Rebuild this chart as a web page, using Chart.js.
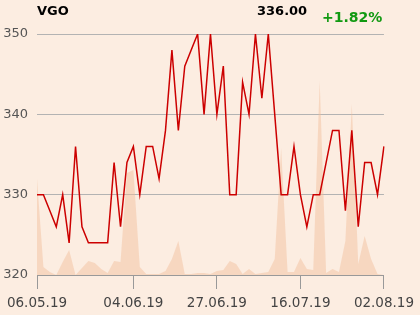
<!DOCTYPE html>
<html>
<head>
<meta charset="utf-8">
<script src="https://cdn.jsdelivr.net/npm/chart.js@4/dist/chart.umd.min.js"></script>
<style>
  html, body { margin: 0; padding: 0; background: #fcede1; }
  #wrap { position: relative; width: 420px; height: 315px; }
  .lbl { position: absolute; font-family: "DejaVu Sans", sans-serif; font-weight: bold; line-height: 1; white-space: nowrap; }
</style>
</head>
<body>
<div id="wrap">
  <canvas id="lineChart" width="420" height="315"></canvas>
  <div class="lbl" style="left:37px;top:4px;font-size:13px;color:#000;">VGO</div>
  <div class="lbl" style="left:257px;top:4px;font-size:13px;color:#000;">336.00</div>
  <div class="lbl" style="left:322px;top:10px;font-size:14px;color:#119911;">+1.82%</div>
</div>
<script>
let dates = [
  '06.05.19','07.05.19','09.05.19','10.05.19','13.05.19','14.05.19','16.05.19','17.05.19',
  '20.05.19','22.05.19','23.05.19','24.05.19','28.05.19','29.05.19','31.05.19',
  '04.06.19','05.06.19','07.06.19','10.06.19','11.06.19','13.06.19','14.06.19','17.06.19',
  '18.06.19','19.06.19','21.06.19','24.06.19','25.06.19',
  '27.06.19','28.06.19','01.07.19','02.07.19','03.07.19','04.07.19','05.07.19','08.07.19',
  '09.07.19','10.07.19','11.07.19','12.07.19','15.07.19',
  '16.07.19','17.07.19','18.07.19','19.07.19','22.07.19','23.07.19','24.07.19','25.07.19',
  '26.07.19','29.07.19','30.07.19','31.07.19','01.08.19','02.08.19'
];
let tickDates = ['06.05.19', '04.06.19', '27.06.19', '16.07.19', '02.08.19'];

let prices = [
  330, 330, 328, 326, 330, 324, 336, 326, 324, 324, 324, 324, 334, 326, 334,
  336, 330, 336, 336, 332, 338, 348, 338, 346, 348, 350, 340, 350,
  340, 346, 330, 330, 344, 340, 350, 342, 350, 340, 330, 330, 336,
  330, 326, 330, 330, 334, 338, 338, 328, 338, 326, 334, 334, 330, 336
];
let volumes = [
  96, 8, 3, 0, 13, 25, 0, 7, 14, 12, 6, 2, 14, 13, 102,
  105, 8, 1, 1, 1, 4, 16, 34, 1, 1, 2, 2, 1,
  4, 5, 14, 11, 1, 6, 1, 2, 3, 16, 127, 3, 3,
  17, 6, 5, 194, 2, 6, 3, 34, 171, 11, 39, 16, 1, 0
];
let yTicks = [320, 330, 340, 350];

let ctx = document.getElementById('lineChart');
Chart.defaults.font.family = '"DejaVu Sans", sans-serif';

new Chart(ctx, {
  type: 'line',
  data: {
    labels: dates,
    datasets: [{
      label: 'VGO',
      data: prices,
      borderColor: '#cc0000',
      borderWidth: 1.5,
      pointRadius: 0,
      tension: 0,
      fill: false,
      yAxisID: 'y',
      order: 1,
    }, {
      label: 'Volumen',
      data: volumes,
      borderWidth: 0,
      backgroundColor: 'rgba(242,188,152,0.45)',
      pointRadius: 0,
      tension: 0,
      fill: 'origin',
      yAxisID: 'v',
      order: 2,
    }],
  },
  options: {
    responsive: false,
    animation: false,
    layout: { padding: { top: 34, right: 34, left: 0, bottom: 0 } },
    plugins: { legend: { display: false }, tooltip: { enabled: false } },
    scales: {
      x: {
        type: 'category',
        offset: false,
        grid: { drawOnChartArea: false, drawTicks: true, tickLength: 14, color: '#999' },
        border: { display: true, color: '#999' },
        ticks: { autoSkip: false, maxRotation: 0, padding: 6, color: '#444', font: { size: 13.5 } },
        afterBuildTicks: function(scale) {
          scale.ticks = scale.ticks.filter(t => tickDates.includes(dates[t.value]));
        },
        afterFit: function(scale) { scale.height = 40; },
      },
      y: {
        position: 'left',
        min: 320,
        max: 350,
        grid: { color: '#b3b3b3', drawTicks: false },
        border: { display: false },
        ticks: { padding: 9, color: '#555', font: { size: 13 } },
        afterBuildTicks: function(scale) {
          scale.ticks = yTicks.map(v => ({ value: v }));
        },
        afterFit: function(scale) { scale.width = 37; },
      },
      v: {
        display: false,
        min: 0,
        max: 241,
      },
    },
  },
});
</script>
</body>
</html>
